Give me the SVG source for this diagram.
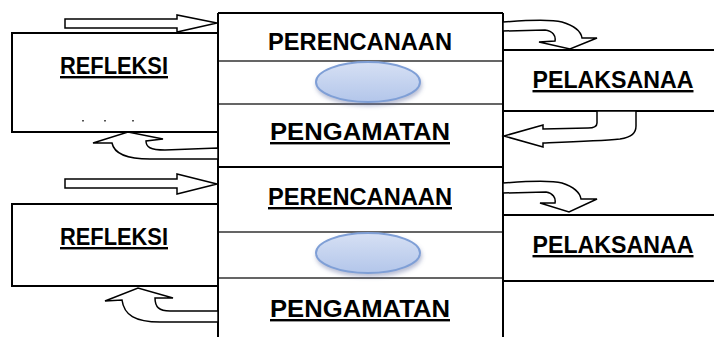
<svg xmlns="http://www.w3.org/2000/svg" width="714" height="337" viewBox="0 0 714 337">
<defs>
<style>
.box{fill:#fff;stroke:#000;stroke-width:2}
.div{stroke:#333;stroke-width:1.5;fill:none}
.edge{stroke:#000;stroke-width:2;fill:none}
.arr{fill:#fff;stroke:#000;stroke-width:1.5;stroke-linejoin:miter}
.t{font-family:"Liberation Sans",Arial,sans-serif;font-weight:bold;font-size:24px;fill:#000;text-anchor:middle}
.u{text-decoration:underline}
.ell{fill:url(#g);stroke:#7f9fd6;stroke-width:2;filter:url(#sh)}
</style>
<linearGradient id="g" x1="0" y1="0" x2="0" y2="1">
<stop offset="0" stop-color="#d6e0f4"/>
<stop offset="1" stop-color="#b3c6ea"/>
</linearGradient>
<filter id="sh" x="-20%" y="-30%" width="140%" height="170%">
<feDropShadow dx="1" dy="3" stdDeviation="2" flood-color="#6070a0" flood-opacity="0.45"/>
</filter>
</defs>

<g id="refleksi1">
<rect class="box" x="12" y="33" width="206" height="99"/>
<text class="t u" x="114" y="74" textLength="108" lengthAdjust="spacingAndGlyphs">REFLEKSI</text>
<rect x="82" y="120" width="2" height="1.5" fill="#555"/>
<rect x="104" y="120" width="2" height="1.5" fill="#555"/>
<rect x="132" y="120" width="2" height="1.5" fill="#555"/>
</g>

<g id="refleksi2">
<rect class="box" x="12" y="204" width="206" height="82"/>
<text class="t u" x="114" y="245" textLength="108" lengthAdjust="spacingAndGlyphs">REFLEKSI</text>
</g>

<g id="pelaksanaan1">
<path class="edge" d="M503,50 H716 M503,111 H716"/>
<text class="t u" x="613" y="88" textLength="161" lengthAdjust="spacingAndGlyphs">PELAKSANAA</text>
</g>

<g id="pelaksanaan2">
<path class="edge" d="M503,215 H716 M503,281 H716"/>
<text class="t u" x="613" y="253" textLength="161" lengthAdjust="spacingAndGlyphs">PELAKSANAA</text>
</g>

<g id="siklus1">
<rect x="218" y="13" width="285" height="154" fill="#fff"/>
<path class="div" d="M218,61 H503 M218,104 H503"/>
<path class="edge" d="M218,13 H503 M218,167 H503"/>
<text class="t" x="360" y="50" textLength="184" lengthAdjust="spacingAndGlyphs">PERENCANAAN</text>
<ellipse class="ell" cx="368" cy="82" rx="52" ry="20"/>
<text class="t u" x="360" y="140" textLength="180" lengthAdjust="spacingAndGlyphs">PENGAMATAN</text>
</g>

<g id="siklus2">
<path class="div" d="M218,232 H503 M218,278 H503"/>
<text class="t u" x="360" y="205" textLength="184" lengthAdjust="spacingAndGlyphs">PERENCANAAN</text>
<ellipse class="ell" cx="368" cy="253" rx="52" ry="20"/>
<text class="t u" x="360" y="317" textLength="180" lengthAdjust="spacingAndGlyphs">PENGAMATAN</text>
</g>

<g id="frame">
<path class="edge" d="M218,13 V337 M503,13 V337"/>
</g>

<g id="connectors">
<path class="arr" d="M65,19 H177 V15 L217,23 L177,32 V28 H65 Z"/>
<path class="arr" d="M503,22 C530,20 550,19 562,22 C575,26 581,31 582,38 L597,38 L570,49 L539,42 L555,41 C556,36 553,31 545,30 L503,31 Z"/>
<path class="arr" d="M597,111 V123 C597,127 594,128 588,128 L543,129 V125 L504,136 L543,147 V143 C570,142 600,141 620,139 C632,137 636,133 636,126 V111 Z"/>
<path class="arr" d="M218,148 L165,150 C150,150 146,147 146,141 L163,139 L128,132 L93,143 L112,143 C114,153 125,159 150,159 L218,159 Z"/>
<path class="arr" d="M65,179 H177 V174 L217,184 L177,194 V188 H65 Z"/>
<path class="arr" d="M503,183 C530,181 550,180 562,183 C574,187 580,193 581,199 L597,199 L569,212 L540,203 L555,203 C556,198 553,193 546,192 L503,193 Z"/>
<path class="arr" d="M218,311 L170,311 C159,311 155,307 155,298 L173,298 L138,288 L105,301 L122,300 C124,315 135,322 160,322 L218,322 Z"/>
</g>
</svg>
